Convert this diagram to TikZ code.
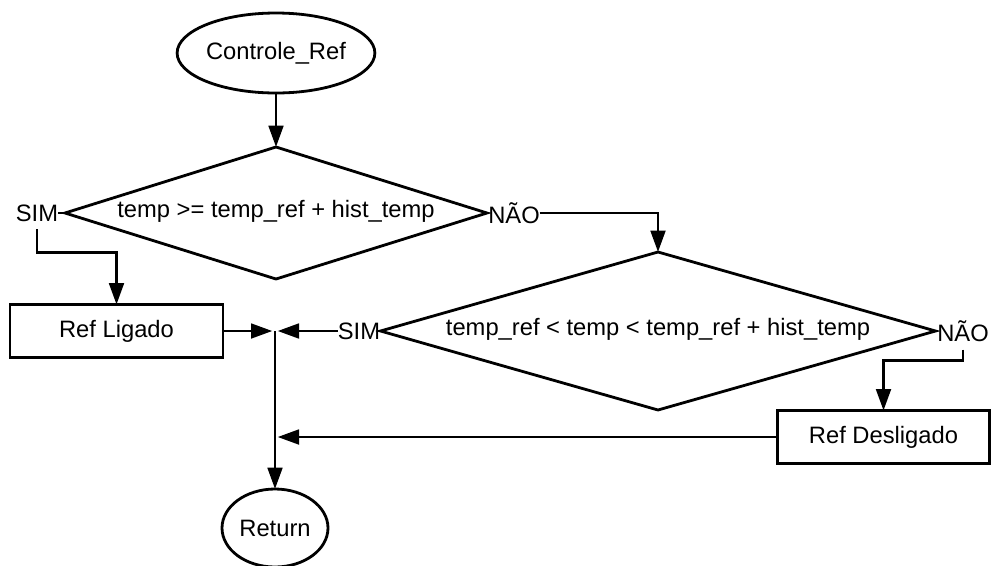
\documentclass[tikz,border=0pt]{standalone}
\usepackage{fontspec}
\setmainfont{Liberation Sans}
\usetikzlibrary{shapes.geometric,arrows.meta}
\begin{document}
\begin{tikzpicture}[x=0.75pt,y=-0.75pt,
  every node/.style={font=\fontsize{17.8}{21}\selectfont, inner sep=0pt, outer sep=0pt},
  flow/.style={line width=2.1pt, draw=black},
  term/.style={flow, ellipse},
  decision/.style={flow, diamond},
  process/.style={flow, rectangle},
  link/.style={line width=2.1pt},
  arrow/.style={link, -{Triangle[length=16pt,width=11pt]}}]

% canvas
\path[fill=white, use as bounding box] (0,0) rectangle (992,565);

% shapes
\node[term, minimum width=147pt, minimum height=60pt] (ctrl) at (276,53) {Controle\_Ref};
\node[decision, minimum width=316.5pt, minimum height=99pt] (d1) at (276,213) {};
\node (d1txt) at ([yshift=1.5pt]d1.center) {temp >= temp\_ref + hist\_temp};
\node[decision, minimum width=416.25pt, minimum height=118.5pt] (d2) at (658,331) {};
\node (d2txt) at ([yshift=1pt]d2.center) {temp\_ref < temp < temp\_ref + hist\_temp};
\node[process, minimum width=159.75pt, minimum height=39.75pt] (lig) at (116.5,331) {Ref Ligado};
\node[process, minimum width=159pt, minimum height=39.75pt] (deslig) at (883.5,437) {Ref Desligado};
\node[term, minimum width=79.5pt, minimum height=58.5pt] (ret) at (275,528) {Return};

% branch labels
\node (sim1) at (37,213) {SIM};
\node (nao1) at (514,213) {NÃO};
\node (sim2) at (359,331) {SIM};
\node (nao2) at (963,331) {NÃO};

% junction points on the return line
\coordinate (j1) at (275,331);
\coordinate (j2) at (275,437);

% connectors
\draw[arrow] (ctrl.south) -- (d1.north);
\draw[link] (d1.west) -- (sim1.east);
\draw[link] (d1.east) -- (nao1.west);
\draw[arrow] ([yshift=-6pt]sim1.south) -- ++(0,23) -| (lig.north);
\draw[arrow] (nao1.east) -| (d2.north);
\draw[link] (d2.west) -- (sim2.east);
\draw[link] (d2.east) -- (nao2.west);
\draw[arrow] ([yshift=-6pt]nao2.south) -- ++(0,11) -| (deslig.north);
\draw[arrow, shorten >=2pt] (lig.east) -- (j1);
\draw[arrow, shorten >=2pt] (sim2.west) -- (j1);
\draw[arrow, shorten >=2pt] (deslig.west) -- (j2);
\draw[arrow] (j1) -- (ret.north);
\end{tikzpicture}
\end{document}
